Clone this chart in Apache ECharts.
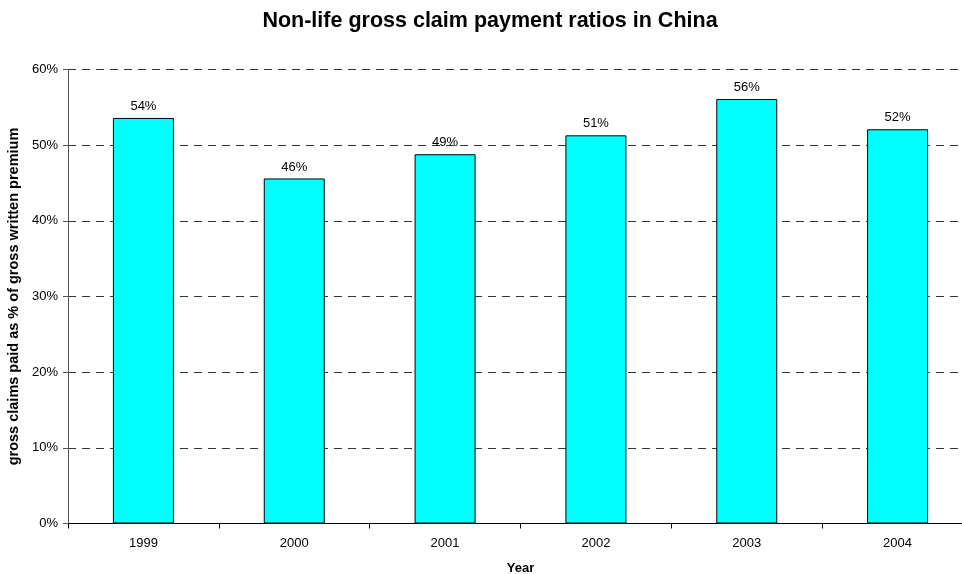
<!DOCTYPE html>
<html>
<head>
<meta charset="utf-8">
<script src="https://cdn.jsdelivr.net/npm/echarts@6/dist/echarts.min.js"></script>
<style>
  html, body { margin: 0; padding: 0; background: #fff; }
  #chart { width: 962px; height: 574px; }
</style>
</head>
<body>
<div id="chart"></div>
<script>
// Years on the category axis
const years = ['1999', '2000', '2001', '2002', '2003', '2004'];
// Gross claims paid as % of gross written premium
const claimRatios = [53.6, 45.6, 48.8, 51.3, 56.1, 52.1];
// Value-axis range and step (percent)
const yMin = 0;
const yMax = 60;
const yStep = 10;

const chart = echarts.init(document.getElementById('chart'), null, { renderer: 'canvas' });
const font = 'Arial, "Liberation Sans", Helvetica, sans-serif';

chart.setOption({
  animation: false,
  backgroundColor: '#ffffff',
  title: {
    text: 'Non-life gross claim payment ratios in China',
    left: 485,
    top: 5,
    textAlign: 'center',
    textStyle: { fontFamily: font, fontSize: 21.5, fontWeight: 'bold', color: '#000' }
  },
  // plot area runs past the right edge of the canvas
  grid: { left: 68, top: 69.5, width: 905, height: 454, outerBoundsMode: 'none', containLabel: false },
  xAxis: {
    type: 'category',
    data: years,
    name: 'Year',
    nameLocation: 'middle',
    nameGap: 38,
    nameTextStyle: { fontFamily: font, fontSize: 13, fontWeight: 'bold', color: '#000' },
    axisLine: { lineStyle: { color: '#000', width: 1 } },
    axisTick: { show: true, length: 5, lineStyle: { color: '#000' } },
    axisLabel: { fontFamily: font, fontSize: 13, color: '#000', margin: 13 },
    splitLine: { show: false }
  },
  yAxis: {
    type: 'value',
    min: yMin,
    max: yMax,
    interval: yStep,
    name: 'gross claims paid as % of gross written premium',
    nameLocation: 'middle',
    nameGap: 47,
    nameTextStyle: { fontFamily: font, fontSize: 14.5, fontWeight: 'bold', color: '#000' },
    axisLine: { show: true, lineStyle: { color: '#555', width: 1 } },
    axisTick: { show: true, length: 5, lineStyle: { color: '#555' } },
    axisLabel: { fontFamily: font, fontSize: 13, color: '#000', margin: 10, formatter: '{value}%' },
    splitLine: {
      show: true,
      lineStyle: { color: '#333', width: 1, type: [8, 6] }
    }
  },
  series: [{
    type: 'bar',
    data: claimRatios,
    barWidth: 61,
    itemStyle: { color: '#00ffff', borderColor: '#000', borderWidth: 1 },
    label: {
      show: true,
      position: 'top',
      distance: 5,
      fontFamily: font,
      fontSize: 13,
      color: '#000',
      formatter: p => Math.round(p.value) + '%'
    }
  }]
});
</script>
</body>
</html>
